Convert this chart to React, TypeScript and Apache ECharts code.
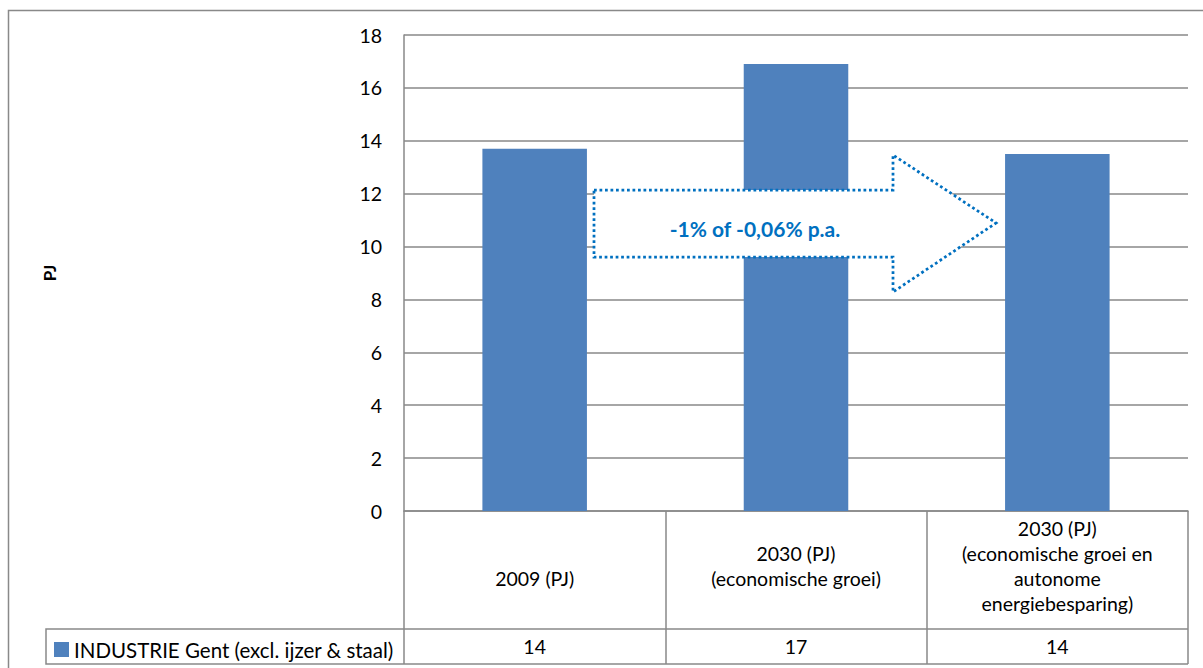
import React, { useEffect, useRef } from "react";
import * as echarts from "echarts";

const categories = [
  "2009 (PJ)",
  "2030 (PJ)\n(economische groei)",
  "2030 (PJ)\n(economische groei en\nautonome\nenergiebesparing)",
];
const values = [13.7, 16.9, 13.5];
const seriesName = "INDUSTRIE Gent (excl. ijzer & staal)";
const yMin = 0;
const yMax = 18;
const yInterval = 2;
const axisName = "PJ";
const arrowText = "-1% of -0,06% p.a.";

const FONT = "Lato, 'Noto Sans', sans-serif";
const GRID_COLOR = "#898989";
const BAR_COLOR = "#4F81BD";
const ARROW_COLOR = "#0070C0";

export default function App() {
  const ref = useRef<HTMLDivElement>(null);

  useEffect(() => {
    if (!ref.current) return;
    const chart = echarts.init(ref.current, undefined, { renderer: "svg" });
    const tableValues = values.map((v) => String(Math.round(v)));
    const categoryData = categories.map((c, i) =>
      i === 0 ? { value: c, textStyle: { padding: [0, 0, 0, 0] } } : c
    );

    chart.setOption({
      animation: false,
      backgroundColor: "#ffffff",
      textStyle: { fontFamily: FONT },
      grid: { left: 404, top: 35, right: 15, height: 476, containLabel: false },
      legend: {
        data: [seriesName],
        left: 54,
        top: 639,
        padding: 0,
        icon: "rect",
        itemWidth: 15,
        itemHeight: 15,
        itemGap: 6,
        textStyle: { fontSize: 20.5, color: "#000", fontFamily: FONT },
      },
      xAxis: [
        {
          type: "category",
          data: categoryData,
          boundaryGap: true,
          axisLine: { show: true, lineStyle: { color: GRID_COLOR, width: 1.5 } },
          axisTick: {
            show: true,
            interval: 0,
            length: 153,
            lineStyle: { color: GRID_COLOR, width: 1.5 },
          },
          axisLabel: {
            interval: 0,
            fontSize: 19.5,
            lineHeight: 25.3,
            color: "#000",
            verticalAlign: "middle",
            margin: 55,
            fontFamily: FONT,
          },
        },
        {
          type: "category",
          data: tableValues,
          position: "bottom",
          boundaryGap: true,
          axisLine: { show: false },
          axisTick: { show: false },
          axisLabel: {
            interval: 0,
            fontSize: 19.5,
            color: "#000",
            verticalAlign: "middle",
            margin: 135,
            fontFamily: FONT,
          },
        },
      ],
      yAxis: {
        type: "value",
        min: yMin,
        max: yMax,
        interval: yInterval,
        name: axisName,
        nameLocation: "middle",
        nameGap: 346,
        nameRotate: 90,
        nameTextStyle: { fontSize: 17, fontWeight: "bold", color: "#000", fontFamily: FONT },
        axisLine: { show: true, lineStyle: { color: GRID_COLOR, width: 1.5 } },
        axisTick: { show: false },
        axisLabel: { fontSize: 19.5, color: "#000", margin: 22, fontFamily: FONT },
        splitLine: { show: true, lineStyle: { color: GRID_COLOR, width: 1.5 } },
      },
      series: [
        {
          name: seriesName,
          type: "bar",
          xAxisIndex: 0,
          data: values,
          barWidth: "40%",
          itemStyle: { color: BAR_COLOR },
        },
      ],
      graphic: [
        {
          type: "rect",
          silent: true,
          z: -10,
          shape: { x: 8.5, y: 10.5, width: 1220, height: 700 },
          style: { fill: "none", stroke: GRID_COLOR, lineWidth: 1.5 },
        },
        {
          type: "polyline",
          silent: true,
          shape: { points: [[1188, 629], [46, 629], [46, 664], [1188, 664]] },
          style: { fill: "none", stroke: GRID_COLOR, lineWidth: 1.5 },
        },
        {
          type: "polygon",
          silent: true,
          z: 100,
          shape: {
            points: [
              [594, 190],
              [893, 190],
              [893, 155],
              [996, 223],
              [893, 292],
              [893, 257],
              [594, 257],
            ],
          },
          style: {
            fill: "#ffffff",
            stroke: ARROW_COLOR,
            lineWidth: 2.75,
            lineDash: [2.75, 2.75],
          },
        },
        {
          type: "text",
          silent: true,
          z: 101,
          x: 755,
          y: 228,
          style: {
            text: arrowText,
            fill: ARROW_COLOR,
            fontSize: 21,
            fontWeight: "bold",
            fontFamily: FONT,
            textAlign: "center",
            textVerticalAlign: "middle",
          },
        },
      ],
    });

    return () => chart.dispose();
  }, []);

  return (
    <div
      ref={ref}
      style={{ position: "fixed", left: 0, top: 0, width: 1203, height: 668, background: "#fff" }}
    />
  );
}
